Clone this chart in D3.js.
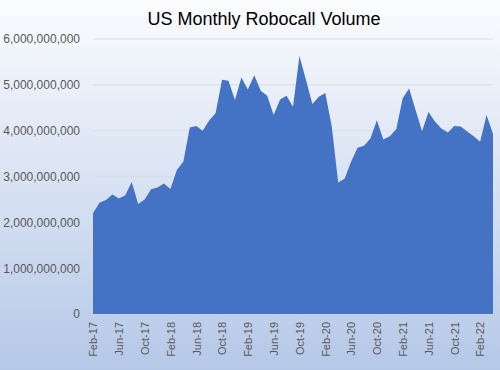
<!DOCTYPE html>
<html>
<head>
<meta charset="utf-8">
<script src="https://cdn.jsdelivr.net/npm/d3@7"></script>
<style>
  html, body { margin: 0; padding: 0; }
  body { width: 500px; height: 370px; overflow: hidden; }
  text { font-family: "Liberation Sans", Arial, sans-serif; }
</style>
</head>
<body>
<div id="chart"></div>
<script>
// months Feb-17 .. Apr-22
const months = ['Feb-17','Mar-17','Apr-17','May-17','Jun-17','Jul-17','Aug-17','Sep-17','Oct-17','Nov-17','Dec-17',
  'Jan-18','Feb-18','Mar-18','Apr-18','May-18','Jun-18','Jul-18','Aug-18','Sep-18','Oct-18','Nov-18','Dec-18',
  'Jan-19','Feb-19','Mar-19','Apr-19','May-19','Jun-19','Jul-19','Aug-19','Sep-19','Oct-19','Nov-19','Dec-19',
  'Jan-20','Feb-20','Mar-20','Apr-20','May-20','Jun-20','Jul-20','Aug-20','Sep-20','Oct-20','Nov-20','Dec-20',
  'Jan-21','Feb-21','Mar-21','Apr-21','May-21','Jun-21','Jul-21','Aug-21','Sep-21','Oct-21','Nov-21','Dec-21',
  'Jan-22','Feb-22','Mar-22','Apr-22']
// robocalls, billions
const volume = [2.20,2.43,2.49,2.61,2.52,2.59,2.88,2.40,2.50,2.72,2.76,
  2.85,2.73,3.14,3.32,4.07,4.10,4.00,4.22,4.38,5.11,5.09,4.67,
  5.16,4.90,5.21,4.87,4.76,4.34,4.68,4.76,4.52,5.63,5.11,4.58,
  4.74,4.82,4.10,2.87,2.95,3.32,3.63,3.67,3.83,4.23,3.81,3.88,
  4.03,4.71,4.92,4.45,3.99,4.41,4.20,4.05,3.96,4.10,4.09,3.98,
  3.88,3.76,4.34,3.93]
const yTicks = [0, 1e9, 2e9, 3e9, 4e9, 5e9, 6e9]
const title = 'US Monthly Robocall Volume'

const width = 500
const height = 370
const margin = {top: 39, right: 7, bottom: 56, left: 93}

const svg = d3.select('#chart').append('svg')
    .attr('width', width)
    .attr('height', height)

// 背景渐变
const grad = svg.append('defs').append('linearGradient')
    .attr('id', 'bg')
    .attr('x1', 0).attr('y1', 0).attr('x2', 0).attr('y2', 1)
grad.append('stop').attr('offset', '0%').attr('stop-color', '#fbfcfe')
grad.append('stop').attr('offset', '100%').attr('stop-color', '#b5c8e8')

svg.append('rect')
    .attr('width', width).attr('height', height)
    .attr('fill', 'url(#bg)')

const x = d3.scalePoint()
    .domain(months)
    .range([margin.left, width - margin.right])

const y = d3.scaleLinear()
    .domain([0, 6e9])
    .range([height - margin.bottom, margin.top])

// grid
svg.append('g')
    .selectAll('line')
    .data(yTicks)
    .join('line')
    .attr('x1', margin.left)
    .attr('x2', width - margin.right)
    .attr('y1', d => y(d))
    .attr('y2', d => y(d))
    .attr('stroke', '#d9dee6')
    .attr('stroke-width', 1)

// area
const area = d3.area()
    .x((d, i) => x(months[i]))
    .y0(y(0))
    .y1(d => y(d * 1e9))

svg.append('path')
    .datum(volume)
    .attr('d', area)
    .attr('fill', '#4472c4')

// y axis
const yAxis = svg.append('g')
    .attr('transform', `translate(${margin.left},0)`)
    .call(d3.axisLeft(y).tickValues(yTicks).tickFormat(d3.format(',')).tickSize(0).tickPadding(13))
yAxis.select('.domain').remove()
yAxis.selectAll('text')
    .attr('fill', '#595959')
    .style('font-size', '12px')
    .style('font-family', '"Liberation Sans", Arial, sans-serif')

// x axis
const xAxis = svg.append('g')
    .attr('transform', `translate(0,${y(0)})`)
    .call(d3.axisBottom(x).tickValues(months.filter((d, i) => i % 4 === 0)).tickSize(4))
xAxis.select('.domain').attr('stroke', '#c8d3e3')
xAxis.selectAll('.tick line').attr('stroke', '#c8d3e3')
xAxis.selectAll('text')
    .attr('fill', '#595959')
    .style('font-size', '11px')
    .style('font-family', '"Liberation Sans", Arial, sans-serif')
    .attr('transform', 'rotate(-90)')
    .attr('text-anchor', 'end')
    .attr('x', -8)
    .attr('y', 0)
    .attr('dy', '0.35em')

// title
svg.append('text')
    .attr('x', 264)
    .attr('y', 25)
    .attr('text-anchor', 'middle')
    .attr('fill', '#000')
    .style('font-size', '18px')
    .text(title)
</script>
</body>
</html>
